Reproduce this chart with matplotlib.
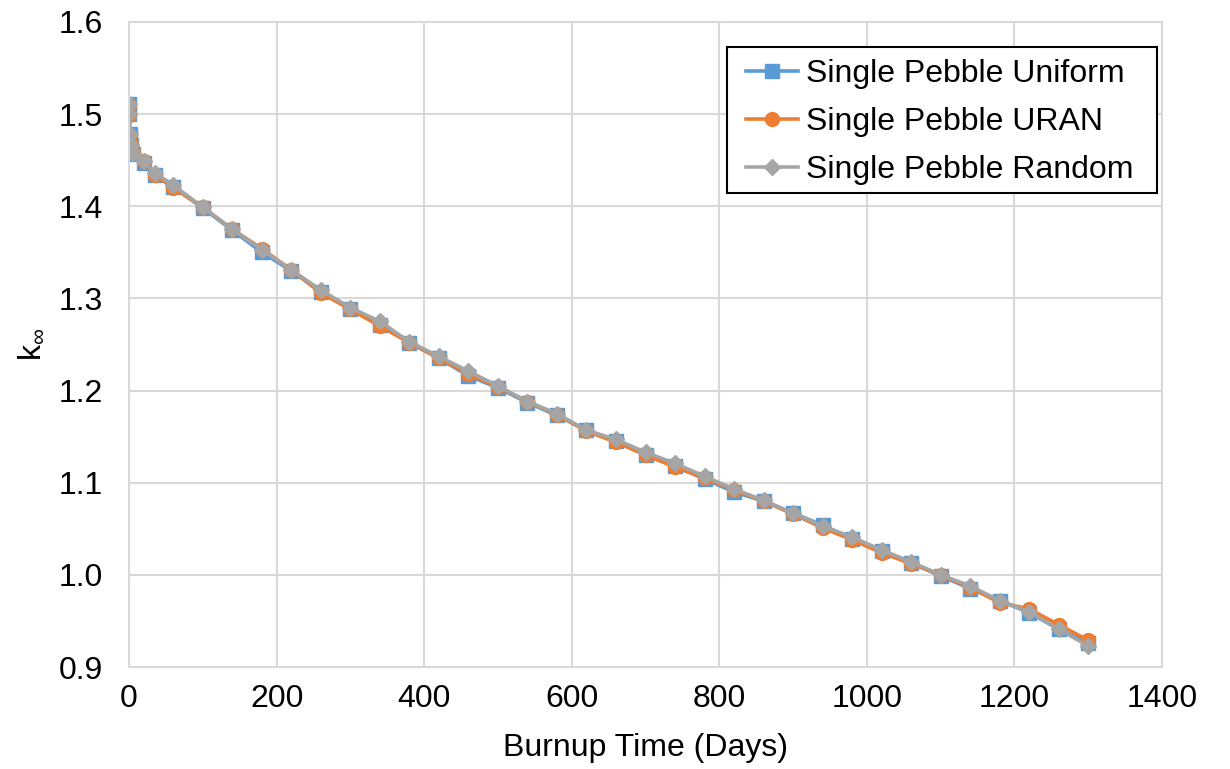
import matplotlib
matplotlib.use("Agg")
import matplotlib.pyplot as plt
from matplotlib.patches import Rectangle

days = [0, 0.5, 1, 2, 5, 20, 35, 60, 100, 140, 180, 220, 260, 300, 340, 380, 420,
        460, 500, 540, 580, 620, 660, 700, 740, 780, 820, 860, 900, 940, 980,
        1020, 1060, 1100, 1140, 1180, 1220, 1260, 1300]

uniform = [1.511, 1.500, 1.478, 1.466, 1.457, 1.447, 1.434, 1.421, 1.398, 1.374,
           1.350, 1.330, 1.307, 1.289, 1.271, 1.252, 1.235, 1.216, 1.203, 1.187,
           1.173, 1.157, 1.145, 1.130, 1.118, 1.104, 1.090, 1.080, 1.067, 1.054,
           1.039, 1.026, 1.013, 0.999, 0.985, 0.972, 0.959, 0.941, 0.926]

uran = [1.510, 1.499, 1.476, 1.468, 1.459, 1.449, 1.434, 1.420, 1.399, 1.375,
        1.354, 1.331, 1.306, 1.288, 1.270, 1.252, 1.235, 1.218, 1.204, 1.188,
        1.174, 1.156, 1.144, 1.130, 1.117, 1.105, 1.092, 1.080, 1.066, 1.051,
        1.038, 1.024, 1.012, 1.000, 0.986, 0.970, 0.963, 0.946, 0.929]

random_ = [1.511, 1.500, 1.478, 1.467, 1.458, 1.449, 1.436, 1.423, 1.399, 1.375,
           1.353, 1.331, 1.309, 1.290, 1.275, 1.253, 1.237, 1.221, 1.205, 1.188,
           1.175, 1.157, 1.147, 1.133, 1.121, 1.107, 1.093, 1.081, 1.067, 1.053,
           1.041, 1.027, 1.014, 1.000, 0.988, 0.972, 0.960, 0.941, 0.923]

series_names = ["Single Pebble Uniform", "Single Pebble URAN", "Single Pebble Random"]
x_ticks = [0, 200, 400, 600, 800, 1000, 1200, 1400]
y_ticks = [0.9, 1.0, 1.1, 1.2, 1.3, 1.4, 1.5, 1.6]

plt.rcParams['font.family'] = ['Liberation Sans', 'DejaVu Sans']
plt.rcParams['mathtext.fontset'] = 'custom'
plt.rcParams['mathtext.rm'] = 'Liberation Sans'
plt.rcParams['mathtext.it'] = 'Liberation Sans'

FS = 23

fig = plt.figure(figsize=(12.3, 7.69), dpi=100)
ax = fig.add_axes([0.1049, 0.1326, 0.8398, 0.8388])

ax.plot(days, uniform, color='#5B9BD5', lw=2.6, marker='s', ms=10, label=series_names[0])
ax.plot(days, uran, color='#ED7D31', lw=2.6, marker='o', ms=10, label=series_names[1])
ax.plot(days, random_, color='#A5A5A5', lw=2.6, marker='D', ms=8.5, label=series_names[2])

ax.set_xlim(0, 1400)
ax.set_ylim(0.9, 1.6)
ax.set_xticks(x_ticks)
ax.set_yticks(y_ticks)
ax.set_yticklabels([f"{v:.1f}" for v in y_ticks])
ax.tick_params(axis='both', length=0, labelsize=FS)
ax.tick_params(axis='y', pad=19)
ax.tick_params(axis='x', pad=12)
ax.grid(True, color='#D9D9D9', lw=1.5)
ax.set_axisbelow(True)
for s in ax.spines.values():
    s.set_color('#D9D9D9')
    s.set_linewidth(1.5)

ax.set_xlabel("Burnup Time (Days)", fontsize=FS, labelpad=14)
ax.set_ylabel(r"k$_{\infty}$", fontsize=FS, labelpad=8)

# legend content (no frame); frame drawn around it with Excel-like padding
pad_l, pad_r, pad_t, pad_b = 19, 24, 12, 8
ax_bb = ax.get_window_extent()
anchor_x = (1157 - pad_r - ax_bb.x0) / ax_bb.width
anchor_y = (769 - 47 - pad_t - ax_bb.y0) / ax_bb.height
leg = ax.legend(loc='upper right', bbox_to_anchor=(anchor_x, anchor_y), borderaxespad=0,
                borderpad=0, fontsize=FS, frameon=False,
                handlelength=1.6, handletextpad=0.25, labelspacing=0.56)
leg.set_zorder(6)
fig.canvas.draw()
lb = leg.get_window_extent()
rect = Rectangle((lb.x0 - pad_l, lb.y0 - pad_b), lb.width + pad_l + pad_r,
                 lb.height + pad_t + pad_b, transform=None, fill=True,
                 facecolor='white', edgecolor='black', lw=1.5, zorder=5, clip_on=False)
ax.add_artist(rect)

fig.savefig("out.png", dpi=100)
